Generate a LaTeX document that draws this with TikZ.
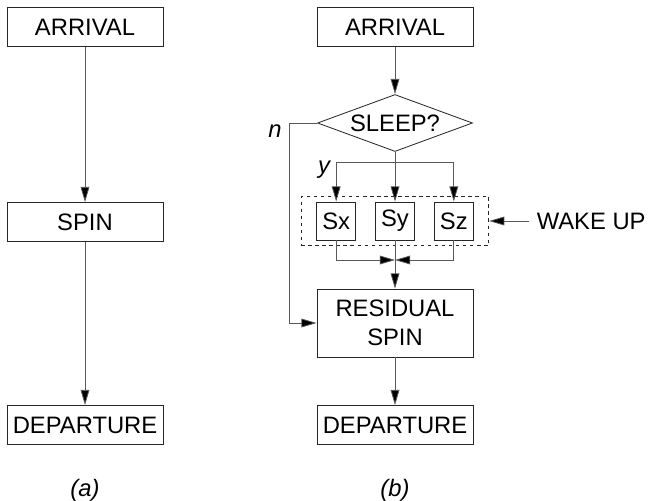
\documentclass[tikz,border=0pt]{standalone}
\usepackage{fontspec}
\setmainfont{Liberation Sans}
\usetikzlibrary{positioning,shapes.geometric,arrows.meta,fit}

\begin{document}
\begin{tikzpicture}[x=0.03cm, y=-0.03cm, line width=0.7pt,
  main font/.style={font=\fontsize{20.3}{25}\selectfont},
  box/.style={draw=black!85, main font, minimum width=4.68cm, minimum height=1.17cm, inner sep=0pt, align=center},
  small box/.style={box, minimum width=1.17cm, minimum height=1.14cm},
  decision/.style={diamond, shape aspect=2.72, draw=black!85, main font, minimum width=4.65cm, minimum height=1.71cm, inner sep=0pt},
  flow/.style={draw=black!65, -{Triangle[length=13pt,width=7.5pt,fill=black]}},
  line/.style={draw=black!65},
  note/.style={font=\fontsize{20.3}{25}\selectfont\itshape}]
  \useasboundingbox (0,0) rectangle (648,500);

  % (a) plain spin
  \node[box] (arrA) at (85,27) {ARRIVAL};
  \node[box] (spinA) at (85,222) {SPIN};
  \node[box] (depA) at (85,425) {DEPARTURE};
  \node[note] (labA) at (85,490) {(a)};

  % (b) spin with sleep
  \node[box] (arrB) at (395,27) {ARRIVAL};
  \node[decision] (sleep) at (395,123) {SLEEP?};
  \node[small box] (sy) at (395,221) {Sy};
  \node[small box] (sx) [left=0.57cm of sy] {Sx};
  \node[small box] (sz) [right=0.57cm of sy] {Sz};
  \node[draw=black!85, dashed, line width=0.6pt, inner xsep=0.45cm, inner ysep=0.15cm, fit=(sx)(sy)(sz)] (wakebox) {};
  \node[main font, anchor=east, inner xsep=0.21cm, inner ysep=0pt] (wake) at (653,221) {WAKE UP};
  \node[box, minimum height=2.04cm] (resid) at (395,323) {RESIDUAL\\SPIN};
  \node[box] (depB) at (395,425) {DEPARTURE};
  \node[note] (labB) at (395,490) {(b)};
  \node[note] (nlab) at (275,131) {n};
  \node[note] (ylab) at (324,170) {y};

  \coordinate (nturn) at (289,123);
  \coordinate (yfan) at (395,162);
  \coordinate (merge) at (395,260);

  \draw[flow] (arrA) -- (spinA);
  \draw[flow] (spinA) -- (depA);

  \draw[flow] (arrB) -- (sleep);
  \draw[flow] (sleep.west) -- (nturn) |- (resid.west);
  \draw[flow] (sleep.south) -- (sy.north);
  \draw[flow] (yfan) -| (sx.north);
  \draw[flow] (yfan) -| (sz.north);
  \draw[flow] (sx.south) |- (merge);
  \draw[flow] (sz.south) |- (merge);
  \draw[flow] (sy.south) -- (resid.north);
  \draw[flow] (wake.west) -- (wakebox.east);
  \draw[flow] (resid) -- (depB);
\end{tikzpicture}
\end{document}
